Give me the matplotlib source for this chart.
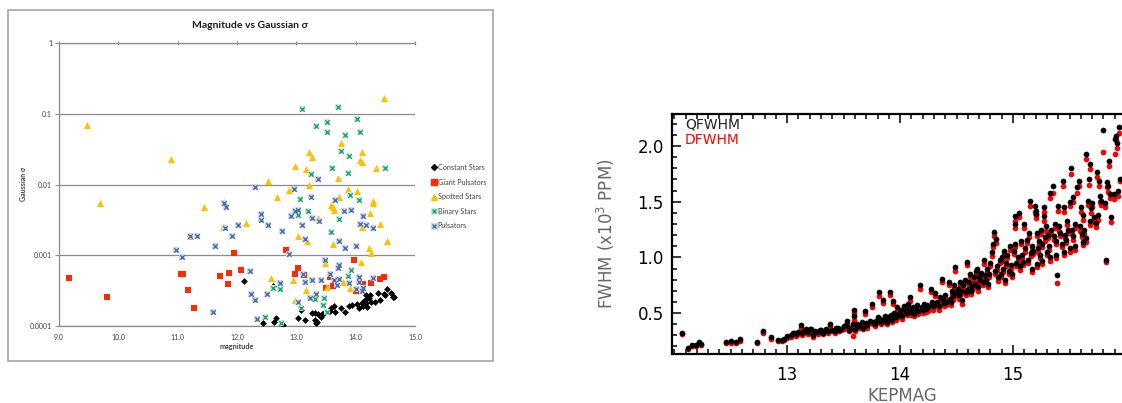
import matplotlib
matplotlib.use('Agg')
import matplotlib.pyplot as plt
from matplotlib.patches import Rectangle
from matplotlib.lines import Line2D
from matplotlib.ticker import FixedLocator, MultipleLocator, NullLocator, FormatStrFormatter
import numpy as np

# ---------------- Left panel data (Excel chart) ----------------
const_mag = [12.12, 12.61, 12.43, 12.63, 12.66, 12.77, 13.02, 13.08, 13.15, 13.26,
             13.32, 13.33, 13.32, 13.37, 13.41, 13.43, 13.46, 13.35, 13.59, 13.56,
             13.65, 13.63, 13.75, 13.82, 13.89, 13.93, 14.03, 14.06, 14.10, 14.13,
             14.16, 14.17, 14.19, 14.20, 14.23, 14.24, 14.26, 14.13, 14.33, 14.37,
             14.41, 14.47, 14.49, 14.53, 14.59, 14.63, 14.65, 14.17]
const_sig = [4.3e-4, 3.7e-4, 1.1e-4, 1.15e-4, 1.28e-4, 1.03e-4, 1.31e-4, 1.7e-4, 1.22e-4, 1.55e-4,
             1.22e-4, 1.12e-4, 1.55e-4, 1.48e-4, 1.35e-4, 1.5e-4, 1.55e-4, 1.15e-4, 1.78e-4, 1.64e-4,
             1.58e-4, 1.94e-4, 1.78e-4, 1.58e-4, 1.9e-4, 2.0e-4, 2.05e-4, 1.78e-4, 2.14e-4, 1.9e-4,
             2.34e-4, 2.1e-4, 1.86e-4, 2.6e-4, 2.46e-4, 2.75e-4, 2.2e-4, 2.2e-4, 2.2e-4, 2.9e-4,
             2.34e-4, 2.8e-4, 2.75e-4, 3.3e-4, 2.9e-4, 2.6e-4, 2.6e-4, 2.75e-4]

gp_mag = [9.17, 9.81, 11.05, 11.09, 11.17, 11.28, 11.71, 11.86, 11.85, 11.95,
          12.06, 12.82, 13.02, 12.98, 13.13, 13.56, 13.50, 13.61, 13.97, 14.00,
          14.12, 14.26, 14.41, 14.47]
gp_sig = [4.7e-4, 2.6e-4, 5.5e-4, 5.4e-4, 3.2e-4, 1.78e-4, 5.1e-4, 5.7e-4, 3.9e-4, 1.06e-3,
          6.2e-4, 1.17e-3, 6.5e-4, 5.5e-4, 5.3e-4, 5.0e-4, 3.5e-4, 3.7e-4, 8.7e-4, 3.1e-4,
          3.9e-4, 4.1e-4, 4.6e-4, 4.9e-4]

sp_mag = [9.47, 10.88, 14.48, 13.21, 13.26, 13.75, 14.11, 14.08, 14.11, 14.34,
          12.98, 13.16, 13.70, 13.21, 12.52, 12.88, 13.87, 14.02, 12.68, 13.72,
          9.69, 11.44, 11.78, 11.21, 11.77, 12.15, 14.30, 14.29, 13.59, 13.62,
          13.64, 14.25, 14.41, 14.10, 13.02, 13.18, 13.36, 13.61, 14.52, 14.23,
          14.26, 13.49, 14.09, 12.57, 12.94, 13.16, 12.98, 13.51, 13.79, 13.90]
sp_sig = [0.070, 0.023, 0.168, 0.0288, 0.0244, 0.0385, 0.0288, 0.0219, 0.0208, 0.0172,
          0.0181, 0.0167, 0.0122, 0.0099, 0.0113, 0.0084, 0.0086, 0.0082, 0.0067, 0.0067,
          0.0054, 0.0048, 0.0057, 0.00186, 0.0025, 0.0029, 0.0059, 0.0055, 0.0052, 0.0048,
          0.0044, 0.0039, 0.0028, 0.0025, 0.0019, 0.0016, 0.0034, 0.00144, 0.0016, 0.00125,
          0.00108, 0.00077, 0.00079, 0.00047, 0.00045, 0.00032, 0.00023, 0.00036, 0.00042, 0.00034]

bin_mag = [13.10, 13.70, 13.33, 13.52, 13.52, 14.02, 14.07, 13.82, 13.75, 13.88,
           13.60, 13.25, 13.87, 14.50, 13.90, 13.06, 14.06, 13.20, 13.02, 13.72,
           13.59, 13.92, 13.87, 12.60, 12.73, 13.31, 13.46, 13.45, 13.08, 13.52,
           12.48, 12.75]
bin_sig = [0.118, 0.126, 0.0676, 0.076, 0.0556, 0.085, 0.055, 0.050, 0.0293, 0.0255,
           0.0172, 0.0142, 0.0146, 0.0172, 0.0071, 0.0063, 0.0061, 0.0042, 0.0037, 0.0033,
           0.0021, 0.00062, 0.00051, 0.00034, 0.00033, 0.00024, 0.00025, 0.00020, 0.00018, 0.00016,
           0.000135, 0.00011]

pul_mag = [12.30, 12.96, 13.37, 13.25, 13.66, 11.78, 11.81, 12.40, 12.40, 12.52,
           12.02, 11.79, 11.92, 11.32, 11.21, 11.63, 10.98, 11.07, 12.76, 12.91,
           12.98, 13.02, 13.10, 13.26, 13.39, 13.14, 13.72, 13.81, 13.92, 14.08,
           14.17, 14.13, 14.29, 13.82, 14.01, 12.88, 13.49, 13.72, 13.70, 12.22,
           13.11, 13.56, 13.63, 13.72, 13.14, 13.27, 13.42, 14.05, 14.06, 14.30,
           13.68, 14.00, 14.12, 14.10, 13.89, 12.73, 12.24, 12.51, 12.31, 13.23,
           13.33, 13.03, 11.59, 12.34]
pul_sig = [0.0093, 0.0087, 0.012, 0.0066, 0.006, 0.0054, 0.0048, 0.0038, 0.0031, 0.0027,
           0.0027, 0.0024, 0.0019, 0.00186, 0.0019, 0.00134, 0.00117, 0.00093, 0.0022, 0.0036,
           0.0042, 0.0044, 0.0027, 0.0034, 0.0030, 0.0017, 0.0016, 0.0042, 0.0044, 0.0028,
           0.0027, 0.0036, 0.0024, 0.00125, 0.00134, 0.00104, 0.00085, 0.00072, 0.00067, 0.0006,
           0.00055, 0.00054, 0.00045, 0.00046, 0.00042, 0.00045, 0.00045, 0.00049, 0.00042, 0.00047,
           0.00038, 0.00033, 0.00035, 0.00031, 0.0004, 0.0004, 0.00028, 0.00028, 0.00023, 0.00025,
           0.00028, 0.00022, 0.00016, 0.000124]

left_xticks = [9.0, 10.0, 11.0, 12.0, 13.0, 14.0, 15.0]
left_yticks = [1e-4, 1e-3, 1e-2, 1e-1, 1.0]
left_yticklabels = ['0.0001', '0.001', '0.01', '0.1', '1']
legend_labels = ['Constant Stars', 'Giant Pulsators', 'Spotted Stars', 'Binary Stars', 'Pulsators']

# ---------------- Right panel data (KEPMAG vs FWHM) ----------------
kep_a = [12.07, 12.12, 12.16, 12.19, 12.22, 12.24, 12.46, 12.50, 12.55, 12.58,
         12.73, 12.79, 12.86, 12.92, 12.95, 12.97, 13.00]
q_a = [0.32, 0.19, 0.21, 0.21, 0.24, 0.22, 0.24, 0.25, 0.24, 0.27,
       0.24, 0.335, 0.285, 0.26, 0.26, 0.27, 0.295]
d_a = [0.31, 0.18, 0.20, 0.20, 0.23, 0.21, 0.23, 0.235, 0.23, 0.25,
       0.235, 0.32, 0.27, 0.25, 0.25, 0.26, 0.28]

kep_b = [13.03, 13.05, 13.06, 13.08, 13.10, 13.12, 13.13, 13.15, 13.17, 13.18,
         13.20, 13.21, 13.23, 13.25, 13.27, 13.29, 13.30, 13.32, 13.34, 13.36,
         13.38, 13.40, 13.42, 13.43, 13.45, 13.46, 13.48, 13.50, 13.52, 13.53,
         13.55, 13.56, 13.58, 13.59, 13.595, 13.60, 13.62, 13.64, 13.66, 13.67,
         13.69, 13.70, 13.71, 13.73, 13.75, 13.76, 13.78, 13.79, 13.80, 13.81,
         13.82, 13.83, 13.85, 13.86, 13.87, 13.88, 13.89, 13.91, 13.92, 13.93,
         13.94, 13.95, 13.96]
q_b = [0.30, 0.32, 0.325, 0.31, 0.33, 0.39, 0.32, 0.34, 0.355, 0.33,
       0.355, 0.36, 0.30, 0.34, 0.33, 0.35, 0.345, 0.325, 0.36, 0.34,
       0.40, 0.35, 0.34, 0.37, 0.37, 0.35, 0.36, 0.38, 0.39, 0.425,
       0.35, 0.37, 0.40, 0.47, 0.53, 0.36, 0.40, 0.385, 0.42, 0.37,
       0.52, 0.41, 0.39, 0.43, 0.585, 0.42, 0.40, 0.43, 0.46, 0.69,
       0.45, 0.42, 0.62, 0.44, 0.47, 0.42, 0.46, 0.69, 0.48, 0.44,
       0.61, 0.50, 0.46]
d_b = [0.285, 0.30, 0.31, 0.295, 0.315, 0.37, 0.30, 0.325, 0.335, 0.315,
       0.34, 0.345, 0.285, 0.32, 0.315, 0.33, 0.33, 0.31, 0.34, 0.325,
       0.38, 0.335, 0.325, 0.35, 0.35, 0.335, 0.345, 0.36, 0.37, 0.40,
       0.335, 0.35, 0.29, 0.44, 0.50, 0.34, 0.38, 0.37, 0.40, 0.355,
       0.49, 0.39, 0.37, 0.41, 0.55, 0.40, 0.38, 0.41, 0.44, 0.65,
       0.43, 0.40, 0.59, 0.42, 0.45, 0.40, 0.44, 0.66, 0.46, 0.42,
       0.58, 0.48, 0.44]

kep_c = [13.97, 13.98, 14.00, 14.01, 14.02, 14.03, 14.05, 14.06, 14.07, 14.08,
         14.09, 14.10, 14.11, 14.12, 14.14, 14.15, 14.16, 14.18, 14.19, 14.20,
         14.21, 14.23, 14.24, 14.25, 14.27, 14.28, 14.29, 14.30, 14.31, 14.33,
         14.34, 14.35, 14.37, 14.38, 14.39, 14.40, 14.41, 14.43, 14.44, 14.45,
         14.46, 14.47, 14.48, 14.49, 14.50]
q_c = [0.55, 0.48, 0.50, 0.53, 0.47, 0.56, 0.52, 0.50, 0.58, 0.54,
       0.645, 0.51, 0.55, 0.49, 0.53, 0.57, 0.52, 0.75, 0.55, 0.53,
       0.58, 0.54, 0.57, 0.55, 0.72, 0.60, 0.56, 0.58, 0.68, 0.60,
       0.56, 0.64, 0.81, 0.62, 0.59, 0.66, 0.60, 0.78, 0.63, 0.60,
       0.70, 0.65, 0.75, 0.91, 0.68]
d_c = [0.52, 0.46, 0.47, 0.50, 0.45, 0.53, 0.49, 0.48, 0.55, 0.51,
       0.61, 0.48, 0.52, 0.47, 0.50, 0.54, 0.49, 0.72, 0.52, 0.50,
       0.55, 0.51, 0.54, 0.52, 0.69, 0.57, 0.53, 0.55, 0.65, 0.57,
       0.53, 0.61, 0.78, 0.59, 0.56, 0.63, 0.57, 0.75, 0.60, 0.57,
       0.67, 0.62, 0.72, 0.88, 0.65]

kep_d = [14.51, 14.52, 14.53, 14.54, 14.55, 14.56, 14.57, 14.58, 14.59, 14.60,
         14.61, 14.62, 14.63, 14.64, 14.65, 14.66, 14.67, 14.68, 14.69, 14.70,
         14.71, 14.72, 14.73, 14.74, 14.75, 14.76, 14.77, 14.78, 14.79, 14.80,
         14.81, 14.82, 14.83, 14.84, 14.85, 14.86, 14.87, 14.88, 14.89, 14.90,
         14.91, 14.92, 14.93, 14.94, 14.95, 14.96, 14.97, 14.98, 14.99]
q_d = [0.72, 0.66, 0.78, 0.70, 0.62, 0.75, 0.80, 0.69, 0.96, 0.72,
       0.78, 0.85, 0.70, 0.74, 0.82, 0.76, 0.88, 0.90, 0.73, 0.82,
       0.80, 0.86, 0.78, 0.975, 0.84, 0.80, 0.90, 0.76, 0.85, 0.95,
       1.05, 1.12, 1.23, 0.88, 1.165, 0.92, 0.82, 0.98, 0.85, 1.00,
       0.90, 1.06, 0.80, 0.95, 1.02, 0.88, 1.10, 0.93, 0.85]
d_d = [0.69, 0.63, 0.75, 0.67, 0.58, 0.72, 0.77, 0.66, 0.93, 0.69,
       0.75, 0.82, 0.67, 0.71, 0.79, 0.73, 0.85, 0.87, 0.70, 0.79,
       0.77, 0.83, 0.75, 0.94, 0.81, 0.77, 0.87, 0.73, 0.82, 0.92,
       1.01, 1.09, 1.19, 0.85, 1.13, 0.89, 0.79, 0.95, 0.82, 0.97,
       0.87, 1.03, 0.77, 0.92, 0.99, 0.85, 1.07, 0.90, 0.82]

kep_e = [15.01, 15.02, 15.02, 15.02, 15.03, 15.04, 15.05, 15.06, 15.07, 15.08,
         15.09, 15.10, 15.11, 15.12, 15.13, 15.14, 15.15, 15.16, 15.17, 15.18,
         15.19, 15.20, 15.20, 15.21, 15.22, 15.23, 15.24, 15.25, 15.26, 15.27,
         15.27, 15.28, 15.29, 15.30, 15.31, 15.32, 15.33, 15.34, 15.35, 15.36,
         15.37, 15.38, 15.39, 15.40, 15.41, 15.42, 15.43, 15.44, 15.45, 15.46,
         15.47, 15.48, 15.49]
q_e = [1.06, 1.12, 1.30, 1.37, 0.95, 1.00, 1.40, 0.92, 1.15, 1.02,
       0.96, 1.30, 1.08, 1.16, 0.98, 1.22, 1.51, 1.04, 1.10, 1.06,
       1.46, 1.42, 1.39, 1.22, 1.08, 1.15, 1.02, 1.25, 1.12, 1.45,
       1.37, 1.18, 1.28, 1.05, 1.20, 1.10, 1.58, 1.25, 1.64, 1.19,
       1.30, 1.15, 0.84, 1.46, 1.28, 1.22, 1.12, 1.69, 1.45, 1.20,
       1.16, 1.33, 1.25]
d_e = [1.03, 1.09, 1.26, 1.33, 0.92, 0.97, 1.36, 0.89, 1.12, 0.99,
       0.93, 1.26, 1.05, 1.13, 0.95, 1.18, 1.46, 1.01, 1.07, 1.03,
       1.41, 1.38, 1.35, 1.19, 1.05, 1.12, 0.99, 1.21, 1.09, 1.41,
       1.33, 1.15, 1.24, 1.02, 1.17, 1.07, 1.53, 1.21, 1.58, 1.16,
       1.26, 1.12, 0.77, 1.42, 1.24, 1.19, 1.09, 1.64, 1.41, 1.17,
       1.13, 1.29, 1.22]

kep_f = [15.50, 15.51, 15.52, 15.53, 15.53, 15.55, 15.57, 15.58, 15.59, 15.60,
         15.61, 15.62, 15.63, 15.65, 15.66, 15.67, 15.68, 15.68, 15.69, 15.70,
         15.72, 15.73, 15.74, 15.75, 15.76, 15.77, 15.78, 15.80, 15.81, 15.82,
         15.83, 15.84, 15.85, 15.86, 15.87, 15.89, 15.90, 15.91, 15.92, 15.93,
         15.94, 15.95]
q_f = [1.50, 1.80, 1.25, 1.54, 1.19, 1.30, 1.63, 1.69, 1.28, 1.45,
       1.21, 1.38, 1.25, 1.93, 1.51, 1.70, 1.84, 1.33, 1.44, 1.49,
       1.36, 1.31, 1.77, 1.38, 1.69, 1.55, 1.51, 2.14, 1.49, 0.98,
       1.68, 1.64, 1.87, 1.57, 1.36, 1.57, 2.06, 2.09, 2.03, 1.60,
       2.17, 1.70]
d_f = [1.46, 1.75, 1.21, 1.50, 1.16, 1.26, 1.58, 1.64, 1.24, 1.41,
       1.18, 1.34, 1.21, 1.88, 1.47, 1.65, 1.79, 1.29, 1.40, 1.45,
       1.32, 1.27, 1.72, 1.34, 1.64, 1.50, 1.47, 1.95, 1.45, 0.96,
       1.63, 1.59, 1.82, 1.53, 1.32, 1.52, 1.93, 2.05, 1.98, 1.55,
       2.12, 1.69]

kep_g = [15.17, 15.21, 15.26, 15.33, 15.38, 15.45, 15.50, 15.55, 15.62, 15.65]
q_g = [0.90, 0.94, 0.97, 1.00, 1.02, 1.05, 1.08, 1.10, 1.14, 1.17]
d_g = [0.87, 0.91, 0.94, 0.97, 0.99, 1.02, 1.05, 1.07, 1.11, 1.14]

kepmag = kep_a + kep_b + kep_c + kep_d + kep_e + kep_f + kep_g
qfwhm = q_a + q_b + q_c + q_d + q_e + q_f + q_g
dfwhm = d_a + d_b + d_c + d_d + d_e + d_f + d_g

right_xticks = [13, 14, 15]
right_yticks = [0.5, 1.0, 1.5, 2.0]

# ---------------- Figure ----------------
W, H = 1122, 403
fig = plt.figure(figsize=(W / 100, H / 100), dpi=100)


def fx(px):
    return px / W


def fy(py):
    return 1 - py / H


LFONT = ['Lato', 'DejaVu Sans']

# outer frame of the Excel chart
fig.add_artist(Rectangle((fx(8), fy(361)), fx(493) - fx(8), fy(10) - fy(361),
                         transform=fig.transFigure, fill=False,
                         edgecolor='#A6A6A6', linewidth=1.2))

ax1 = fig.add_axes([fx(59), fy(326), fx(415) - fx(59), fy(43) - fy(326)])
ax1.set_yscale('log')
ax1.set_xlim(9, 15)
ax1.set_ylim(1e-4, 1)
ax1.yaxis.set_major_locator(FixedLocator(left_yticks))
ax1.yaxis.set_minor_locator(NullLocator())
ax1.set_yticklabels(left_yticklabels)
ax1.xaxis.set_major_locator(FixedLocator(left_xticks))
ax1.set_xticklabels(['%.1f' % v for v in left_xticks])
ax1.yaxis.grid(True, color='#8C8C8C', linewidth=0.9)
ax1.set_axisbelow(True)
ax1.spines['right'].set_visible(False)
for s in ['left', 'bottom', 'top']:
    ax1.spines[s].set_color('#8C8C8C')
    ax1.spines[s].set_linewidth(0.9)
ax1.tick_params(axis='y', which='major', length=3, color='#8C8C8C', labelsize=5,
                labelcolor='#404040', pad=2)
ax1.tick_params(axis='x', which='major', bottom=False, top=True, direction='inout',
                length=3, color='#8C8C8C', labelsize=5, labelcolor='#404040', pad=4)
for lab in ax1.get_xticklabels() + ax1.get_yticklabels():
    lab.set_family(LFONT)

ax1.scatter(const_mag, const_sig, marker='D', s=12, color='black', linewidths=0, zorder=3)
ax1.scatter(gp_mag, gp_sig, marker='s', s=24, color='#FF2A00', linewidths=0, zorder=3)
ax1.scatter(sp_mag, sp_sig, marker='^', s=26, color='#FFC000', linewidths=0, zorder=3)
ax1.scatter(bin_mag, bin_sig, marker='s', s=24, color='#D2E9DD', linewidths=0, zorder=3)
ax1.scatter(bin_mag, bin_sig, marker='x', s=11, color='#1FA670', linewidths=1.0, zorder=3)
ax1.scatter(pul_mag, pul_sig, marker='s', s=24, color='#D3DAE6', linewidths=0, zorder=3)
ax1.scatter(pul_mag, pul_sig, marker='x', s=11, color='#4A6FAE', linewidths=1.0, zorder=3)

handles = [
    Line2D([], [], marker='D', color='black', markersize=3, linestyle='none'),
    Line2D([], [], marker='s', color='#FF2A00', markersize=4, linestyle='none'),
    Line2D([], [], marker='^', color='#FFC000', markersize=4, linestyle='none'),
    (Line2D([], [], marker='s', color='#D2E9DD', markersize=4, linestyle='none'),
     Line2D([], [], marker='x', color='#1FA670', markersize=3, linestyle='none', markeredgewidth=1)),
    (Line2D([], [], marker='s', color='#D3DAE6', markersize=4, linestyle='none'),
     Line2D([], [], marker='x', color='#4A6FAE', markersize=3, linestyle='none', markeredgewidth=1)),
]
leg = fig.legend(handles, legend_labels, loc='upper left',
                 bbox_to_anchor=(fx(431), fy(164)), bbox_transform=fig.transFigure,
                 frameon=False, prop={'family': LFONT, 'size': 5.2},
                 handlelength=0.7, handletextpad=0.2, labelspacing=1.05,
                 borderpad=0, borderaxespad=0)
for t in leg.get_texts():
    t.set_color('#404040')

fig.text(fx(250), fy(25), 'Magnitude vs Gaussian σ', ha='center', va='center',
         fontsize=7.5, fontweight='bold', family=LFONT, color='#1a1a1a')
fig.text(fx(23), fy(184), 'Gaussian σ', ha='center', va='center', rotation=90,
         fontsize=5, fontweight='bold', family=LFONT, color='#404040')
fig.text(fx(237), fy(347), 'magnitude', ha='center', va='center',
         fontsize=5.2, fontweight='bold', family=LFONT, color='#404040')

# ---------------- Right panel ----------------
ax2 = fig.add_axes([fx(672), fy(354), fx(1126) - fx(672), fy(114) - fy(354)])
ax2.set_xlim(11.98, 16.0)
ax2.set_ylim(0.132, 2.288)
ax2.scatter(kepmag, dfwhm, s=17, color='#FF0000', linewidths=0, zorder=2)
ax2.scatter(kepmag, qfwhm, s=17, color='black', linewidths=0, zorder=3)
ax2.xaxis.set_major_locator(FixedLocator(right_xticks))
ax2.xaxis.set_minor_locator(MultipleLocator(0.1))
ax2.yaxis.set_major_locator(FixedLocator(right_yticks))
ax2.yaxis.set_minor_locator(MultipleLocator(0.1))
ax2.yaxis.set_major_formatter(FormatStrFormatter('%.1f'))
ax2.xaxis.set_major_formatter(FormatStrFormatter('%d'))
ax2.spines['right'].set_visible(False)
for s in ['left', 'bottom', 'top']:
    ax2.spines[s].set_linewidth(1.6)
ax2.tick_params(which='both', direction='in', top=True, right=False, width=1.1, color='black')
ax2.tick_params(which='major', length=6.5, labelsize=12)
ax2.tick_params(which='minor', length=3.6)
ax2.tick_params(axis='x', which='major', pad=9)
ax2.tick_params(axis='y', which='major', pad=6)

fig.text(fx(902), fy(396), 'KEPMAG', ha='center', va='center', fontsize=12, color='#666666')
fig.text(fx(606), fy(234), 'FWHM (x10$^3$ PPM)', ha='center', va='center', rotation=90,
         fontsize=12, color='#666666')
fig.text(fx(685), fy(124), 'QFWHM', ha='left', va='center', fontsize=10, color='#222222')
fig.text(fx(685), fy(140), 'DFWHM', ha='left', va='center', fontsize=10, color='#FF0000')

fig.savefig('out.png', dpi=100)
